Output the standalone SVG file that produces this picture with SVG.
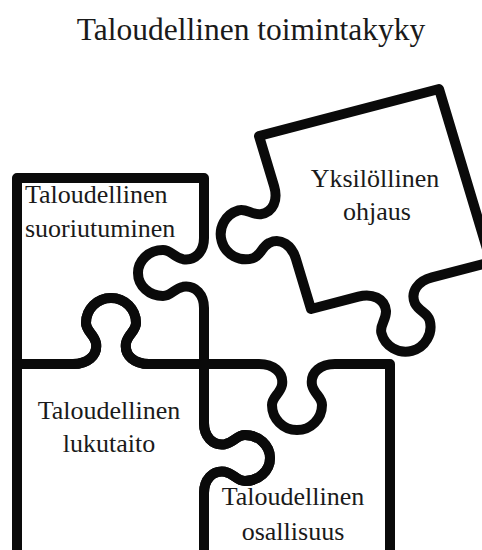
<svg xmlns="http://www.w3.org/2000/svg" width="482" height="550" viewBox="0 0 482 550">
<style>
.piece{fill:none;stroke:#0a0a0a;stroke-width:10;stroke-linejoin:round;stroke-linecap:round}
text{font-family:"Liberation Serif","Times New Roman",serif;fill:#1a1a1a;font-size:26px}
.c{text-anchor:middle}
</style>
<rect width="482" height="550" fill="#fff"/>
<text class="c" x="251" y="40" style="font-size:31.5px">Taloudellinen toimintakyky</text>
<g id="connectors"></g>
<g id="piece-suoriutuminen">
<path class="piece" d="M17 178 L204 178 L204 238 C204 250.9 196 261 183 259.2 C174 257.4 171 250 163 250 C149.2 250 138 260.3 138 273 C138 285.7 149.2 296 163 296 C171 296 174 288.6 183 286.8 C196 285 204 295.1 204 308 L204 364 L149 364 C135 364 124 356 126 343 C128 334 136 331 136 323 C136 309.2 124.8 298 111 298 C97.2 298 86 309.2 86 323 C86 331 94 334 96 343 C98 356 87 364 73 364 L17 364 Z"/>
<text x="25" y="203">Taloudellinen</text>
<text x="25" y="237">suoriutuminen</text>
</g>
<g id="piece-lukutaito">
<path class="piece" d="M17 560 L17 364 L73 364 C87 364 98 356 96 343 C94 334 86 331 86 323 C86 309.2 97.2 298 111 298 C124.8 298 136 309.2 136 323 C136 331 128 334 126 343 C124 356 135 364 149 364 L204 364 L204 423 C204 435.9 212 446 225 444.2 C234 442.4 237 435 245 435 C258.8 435 270 445.3 270 458 C270 470.7 258.8 481 245 481 C237 481 234 473.6 225 471.8 C212 470 204 480.1 204 493 L204 560 L17 560 Z"/>
<text class="c" x="109" y="419">Taloudellinen</text>
<text class="c" x="109" y="452">lukutaito</text>
</g>
<g id="piece-osallisuus">
<path class="piece" d="M204 364 L259 364 C273 364 284 372 282 385 C280 394 272 397 272 405 C272 418.8 283.2 430 297 430 C310.8 430 322 418.8 322 405 C322 397 314 394 312 385 C310 372 321 364 335 364 L390 364 L390 560 L204 560 L204 493 C204 480.1 212 470 225 471.8 C234 473.6 237 481 245 481 C258.8 481 270 470.7 270 458 C270 445.3 258.8 435 245 435 C237 435 234 442.4 225 444.2 C212 446 204 435.9 204 423 Z"/>
<text class="c" x="293" y="505">Taloudellinen</text>
<text class="c" x="293" y="540">osallisuus</text>
</g>
<g id="piece-ohjaus">
<path class="piece" d="M259 136 L439 89 L491 262 L432 277.4 C418.4 280.9 409.8 291.5 415 303.5 C419.2 311.7 427.7 312.6 429.7 320.4 C433.2 333.7 425.2 347.4 411.9 350.9 C398.5 354.3 384.9 346.3 381.4 333 C379.4 325.2 386.3 320.3 386 311.1 C384.6 298 372 293.1 358.4 296.6 L311 309 L295.9 258.9 C291.9 245.5 281.1 237.3 269.2 242.9 C261.2 247.4 260.6 255.9 252.9 258.2 C239.7 262.2 225.8 254.7 221.8 241.5 C217.8 228.3 225.3 214.3 238.5 210.4 C246.2 208.1 251.4 214.9 260.6 214.2 C273.6 212.4 278.1 199.5 274.1 186.1 Z"/>
<text class="c" x="375" y="187">Yksilöllinen</text>
<text class="c" x="377" y="220">ohjaus</text>
</g>
</svg>
